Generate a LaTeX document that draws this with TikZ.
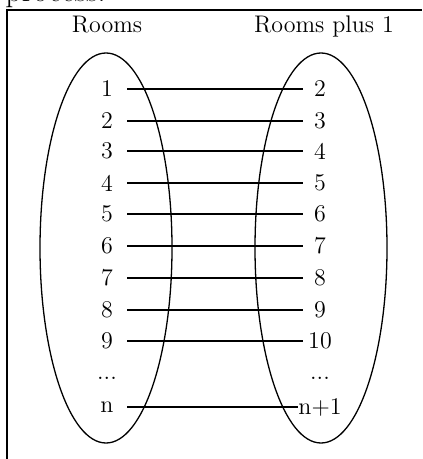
\documentclass[tikz,border=0pt]{standalone}
\begin{document}
\begin{tikzpicture}[x=0.5pt,y=-0.5pt,
  every node/.style={font=\fontsize{12}{14}\selectfont, inner sep=0pt},
  roomL/.style={minimum width=20pt},
  roomR/.style={minimum width=17pt},
  set/.style={draw, line width=0.65pt},
  link/.style={draw, line width=0.7pt},
  frame/.style={draw, line width=1pt}]
\useasboundingbox (0,0) rectangle (422,459);

% end of the preceding sentence, cut off by the frame
\begin{scope}
  \clip (0,0) rectangle (422,459);
  \node[anchor=base west, font=\fontsize{16}{18}\selectfont] (prev) at (5,2) {process.};
\end{scope}

% frame (top and left edges)
\draw[frame] (7,459) -- (7,10) -- (422,10);

% headings
\node[anchor=base] (hL) at (107,33) {Rooms};
\node[anchor=base] (hR) at (324,33) {Rooms plus 1};

% the two sets
\draw[set] (106,248) ellipse [x radius=66, y radius=195];
\draw[set] (321,248) ellipse [x radius=66, y radius=195];

% elements and the map k -> k+1
\foreach \k/\y in {1/89, 2/121, 3/151, 4/183, 5/214, 6/246, 7/278, 8/310, 9/341}{
  \pgfmathtruncatemacro{\nxt}{\k+1}
  \node[roomL] (l\k) at (107,\y) {\k};
  \node[roomR] (r\k) at (320,\y) {\nxt};
  \draw[link] (l\k) -- (r\k);
}
\node (ldots) at (107,378) {...};
\node (rdots) at (320,378) {...};
\node[roomL] (ln) at (107,407) {n};
\node[roomR] (rn) at (320,407) {n+1};
\draw[link] (ln) -- (rn);
\end{tikzpicture}
\end{document}
